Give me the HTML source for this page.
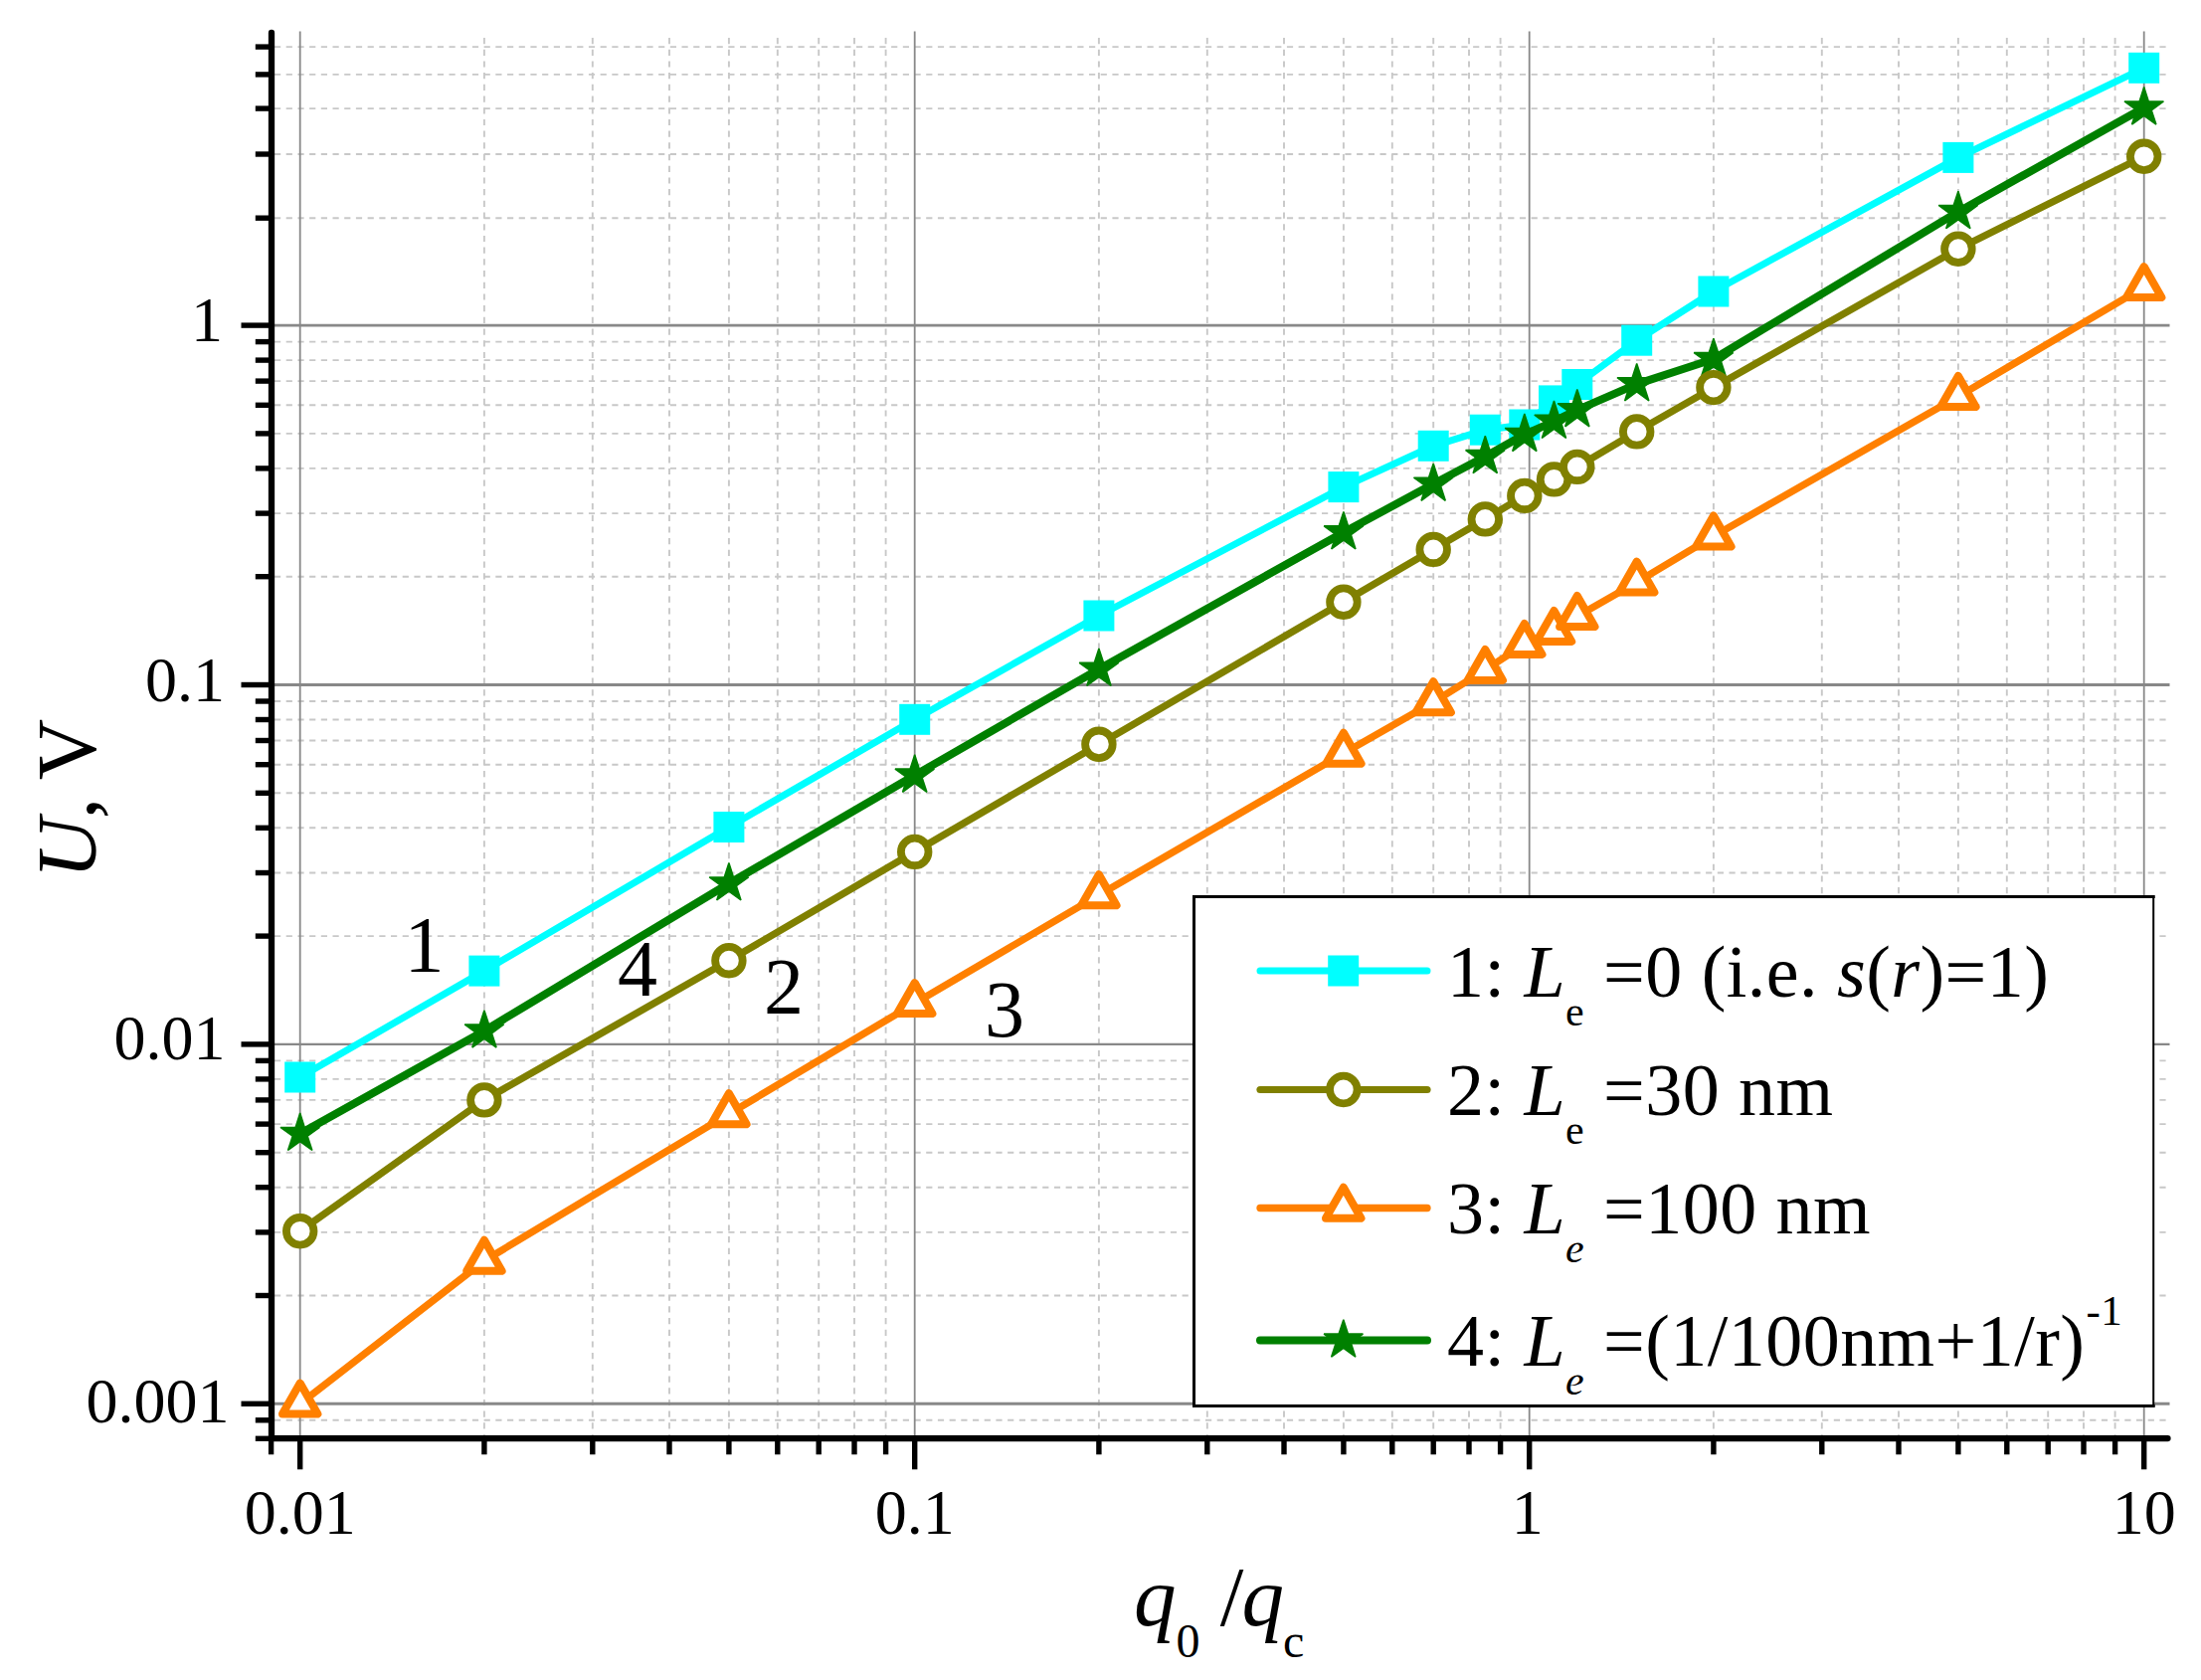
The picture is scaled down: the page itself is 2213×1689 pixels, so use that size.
<!DOCTYPE html>
<html><head><meta charset="utf-8"><title>U vs q0/qc</title>
<style>
html,body{margin:0;padding:0;background:#fff;}
svg{display:block;}
text{font-family:"Liberation Serif",serif;fill:#000;}
.i{font-style:italic;}
</style></head><body>
<svg width="2213" height="1689" viewBox="0 0 2213 1689">
<rect width="2213" height="1689" fill="#fff"/>

<g stroke="#c8c8c8" stroke-width="1.9" stroke-dasharray="6.2 5.5" fill="none">
<line x1="486.9" y1="38" x2="486.9" y2="1446.1"/>
<line x1="595.8" y1="38" x2="595.8" y2="1446.1"/>
<line x1="673.0" y1="38" x2="673.0" y2="1446.1"/>
<line x1="732.9" y1="38" x2="732.9" y2="1446.1"/>
<line x1="781.8" y1="38" x2="781.8" y2="1446.1"/>
<line x1="823.2" y1="38" x2="823.2" y2="1446.1"/>
<line x1="859.0" y1="38" x2="859.0" y2="1446.1"/>
<line x1="890.6" y1="38" x2="890.6" y2="1446.1"/>
<line x1="1104.9" y1="38" x2="1104.9" y2="1446.1"/>
<line x1="1213.8" y1="38" x2="1213.8" y2="1446.1"/>
<line x1="1291.0" y1="38" x2="1291.0" y2="1446.1"/>
<line x1="1350.9" y1="38" x2="1350.9" y2="1446.1"/>
<line x1="1399.8" y1="38" x2="1399.8" y2="1446.1"/>
<line x1="1441.2" y1="38" x2="1441.2" y2="1446.1"/>
<line x1="1477.0" y1="38" x2="1477.0" y2="1446.1"/>
<line x1="1508.6" y1="38" x2="1508.6" y2="1446.1"/>
<line x1="1722.9" y1="38" x2="1722.9" y2="1446.1"/>
<line x1="1831.8" y1="38" x2="1831.8" y2="1446.1"/>
<line x1="1909.0" y1="38" x2="1909.0" y2="1446.1"/>
<line x1="1968.9" y1="38" x2="1968.9" y2="1446.1"/>
<line x1="2017.8" y1="38" x2="2017.8" y2="1446.1"/>
<line x1="2059.2" y1="38" x2="2059.2" y2="1446.1"/>
<line x1="2095.0" y1="38" x2="2095.0" y2="1446.1"/>
<line x1="2126.6" y1="38" x2="2126.6" y2="1446.1"/>
<line x1="276.0" y1="1427.8" x2="2181.5" y2="1427.8"/>
<line x1="276.0" y1="1302.5" x2="2181.5" y2="1302.5"/>
<line x1="276.0" y1="1238.9" x2="2181.5" y2="1238.9"/>
<line x1="276.0" y1="1193.7" x2="2181.5" y2="1193.7"/>
<line x1="276.0" y1="1158.7" x2="2181.5" y2="1158.7"/>
<line x1="276.0" y1="1130.1" x2="2181.5" y2="1130.1"/>
<line x1="276.0" y1="1105.9" x2="2181.5" y2="1105.9"/>
<line x1="276.0" y1="1084.9" x2="2181.5" y2="1084.9"/>
<line x1="276.0" y1="1066.4" x2="2181.5" y2="1066.4"/>
<line x1="276.0" y1="941.1" x2="2181.5" y2="941.1"/>
<line x1="276.0" y1="877.5" x2="2181.5" y2="877.5"/>
<line x1="276.0" y1="832.3" x2="2181.5" y2="832.3"/>
<line x1="276.0" y1="797.3" x2="2181.5" y2="797.3"/>
<line x1="276.0" y1="768.7" x2="2181.5" y2="768.7"/>
<line x1="276.0" y1="744.5" x2="2181.5" y2="744.5"/>
<line x1="276.0" y1="723.5" x2="2181.5" y2="723.5"/>
<line x1="276.0" y1="705.0" x2="2181.5" y2="705.0"/>
<line x1="276.0" y1="579.7" x2="2181.5" y2="579.7"/>
<line x1="276.0" y1="516.1" x2="2181.5" y2="516.1"/>
<line x1="276.0" y1="470.9" x2="2181.5" y2="470.9"/>
<line x1="276.0" y1="435.9" x2="2181.5" y2="435.9"/>
<line x1="276.0" y1="407.3" x2="2181.5" y2="407.3"/>
<line x1="276.0" y1="383.1" x2="2181.5" y2="383.1"/>
<line x1="276.0" y1="362.1" x2="2181.5" y2="362.1"/>
<line x1="276.0" y1="343.6" x2="2181.5" y2="343.6"/>
<line x1="276.0" y1="219.2" x2="2181.5" y2="219.2"/>
<line x1="276.0" y1="155.0" x2="2181.5" y2="155.0"/>
<line x1="276.0" y1="109.1" x2="2181.5" y2="109.1"/>
<line x1="276.0" y1="74.9" x2="2181.5" y2="74.9"/>
<line x1="276.0" y1="47.1" x2="2181.5" y2="47.1"/>
</g>
<g stroke="#888888" fill="none">
<line x1="301.7" y1="31.5" x2="301.7" y2="1446.1" stroke-width="1.8"/>
<line x1="919.7" y1="31.5" x2="919.7" y2="1446.1" stroke-width="1.8"/>
<line x1="1537.7" y1="31.5" x2="1537.7" y2="1446.1" stroke-width="1.8"/>
<line x1="2155.7" y1="31.5" x2="2155.7" y2="1446.1" stroke-width="1.8"/>
<line x1="273.0" y1="1411.3" x2="2181.5" y2="1411.3" stroke-width="3"/>
<line x1="273.0" y1="1049.9" x2="2181.5" y2="1049.9" stroke-width="2.1"/>
<line x1="273.0" y1="688.5" x2="2181.5" y2="688.5" stroke-width="3"/>
<line x1="273.0" y1="327.1" x2="2181.5" y2="327.1" stroke-width="2.6"/>
</g>
<g>
<polyline points="301.7,1083.0 486.9,976.1 732.9,831.5 919.7,723.3 1104.9,619.0 1350.9,489.6 1441.2,448.3 1493.3,432.2 1532.8,427.0 1562.5,402.9 1585.8,386.5 1645.7,342.2 1722.9,293.0 1968.9,158.4 2155.7,68.3" fill="none" stroke="#00ffff" stroke-width="7.0" stroke-linejoin="round"/>
<rect x="286.2" y="1067.5" width="31" height="31" fill="#00ffff"/>
<rect x="471.4" y="960.6" width="31" height="31" fill="#00ffff"/>
<rect x="717.4" y="816.0" width="31" height="31" fill="#00ffff"/>
<rect x="904.2" y="707.8" width="31" height="31" fill="#00ffff"/>
<rect x="1089.4" y="603.5" width="31" height="31" fill="#00ffff"/>
<rect x="1335.4" y="474.1" width="31" height="31" fill="#00ffff"/>
<rect x="1425.7" y="432.8" width="31" height="31" fill="#00ffff"/>
<rect x="1477.8" y="416.7" width="31" height="31" fill="#00ffff"/>
<rect x="1517.3" y="411.5" width="31" height="31" fill="#00ffff"/>
<rect x="1547.0" y="387.4" width="31" height="31" fill="#00ffff"/>
<rect x="1570.3" y="371.0" width="31" height="31" fill="#00ffff"/>
<rect x="1630.2" y="326.7" width="31" height="31" fill="#00ffff"/>
<rect x="1707.4" y="277.5" width="31" height="31" fill="#00ffff"/>
<rect x="1953.4" y="142.9" width="31" height="31" fill="#00ffff"/>
<rect x="2140.2" y="52.8" width="31" height="31" fill="#00ffff"/>
</g>
<g>
<polyline points="301.7,1139.8 486.9,1036.4 732.9,888.3 919.7,779.5 1104.9,672.7 1350.9,535.2 1441.2,486.6 1493.3,459.0 1532.8,436.8 1562.5,423.6 1585.8,412.1 1645.7,386.1 1722.9,361.0 1968.9,212.9 2155.7,108.3" fill="none" stroke="#008000" stroke-width="8.0" stroke-linejoin="round"/>
<polygon points="301.7,1119.1 306.3,1133.4 321.4,1133.4 309.2,1142.2 313.9,1156.5 301.7,1147.7 289.5,1156.5 294.2,1142.2 282.0,1133.4 297.1,1133.4" fill="#008000" stroke="#008000" stroke-width="1.5" stroke-linejoin="bevel"/>
<polygon points="486.9,1015.7 491.6,1030.0 506.6,1030.0 494.5,1038.8 499.1,1053.1 486.9,1044.3 474.8,1053.1 479.4,1038.8 467.2,1030.0 482.3,1030.0" fill="#008000" stroke="#008000" stroke-width="1.5" stroke-linejoin="bevel"/>
<polygon points="732.9,867.6 737.5,881.9 752.6,881.9 740.4,890.7 745.0,905.0 732.9,896.2 720.7,905.0 725.3,890.7 713.2,881.9 728.2,881.9" fill="#008000" stroke="#008000" stroke-width="1.5" stroke-linejoin="bevel"/>
<polygon points="919.7,758.8 924.3,773.1 939.4,773.1 927.2,781.9 931.9,796.3 919.7,787.4 907.5,796.3 912.2,781.9 900.0,773.1 915.1,773.1" fill="#008000" stroke="#008000" stroke-width="1.5" stroke-linejoin="bevel"/>
<polygon points="1104.9,652.0 1109.6,666.3 1124.6,666.3 1112.5,675.1 1117.1,689.4 1104.9,680.6 1092.8,689.4 1097.4,675.1 1085.2,666.3 1100.3,666.3" fill="#008000" stroke="#008000" stroke-width="1.5" stroke-linejoin="bevel"/>
<polygon points="1350.9,514.5 1355.5,528.8 1370.6,528.8 1358.4,537.7 1363.0,552.0 1350.9,543.2 1338.7,552.0 1343.3,537.7 1331.2,528.8 1346.2,528.8" fill="#008000" stroke="#008000" stroke-width="1.5" stroke-linejoin="bevel"/>
<polygon points="1441.2,465.9 1445.8,480.2 1460.9,480.2 1448.7,489.0 1453.3,503.3 1441.2,494.5 1429.0,503.3 1433.7,489.0 1421.5,480.2 1436.5,480.2" fill="#008000" stroke="#008000" stroke-width="1.5" stroke-linejoin="bevel"/>
<polygon points="1493.3,438.3 1497.9,452.6 1513.0,452.6 1500.8,461.4 1505.4,475.7 1493.3,466.9 1481.1,475.7 1485.8,461.4 1473.6,452.6 1488.6,452.6" fill="#008000" stroke="#008000" stroke-width="1.5" stroke-linejoin="bevel"/>
<polygon points="1532.8,416.1 1537.5,430.4 1552.5,430.4 1540.4,439.3 1545.0,453.6 1532.8,444.7 1520.7,453.6 1525.3,439.3 1513.2,430.4 1528.2,430.4" fill="#008000" stroke="#008000" stroke-width="1.5" stroke-linejoin="bevel"/>
<polygon points="1562.5,402.9 1567.1,417.2 1582.2,417.2 1570.0,426.1 1574.6,440.4 1562.5,431.5 1550.3,440.4 1555.0,426.1 1542.8,417.2 1557.8,417.2" fill="#008000" stroke="#008000" stroke-width="1.5" stroke-linejoin="bevel"/>
<polygon points="1585.8,391.4 1590.5,405.7 1605.5,405.7 1593.4,414.5 1598.0,428.8 1585.8,420.0 1573.7,428.8 1578.3,414.5 1566.1,405.7 1581.2,405.7" fill="#008000" stroke="#008000" stroke-width="1.5" stroke-linejoin="bevel"/>
<polygon points="1645.7,365.4 1650.4,379.7 1665.4,379.7 1653.2,388.6 1657.9,402.9 1645.7,394.0 1633.6,402.9 1638.2,388.6 1626.0,379.7 1641.1,379.7" fill="#008000" stroke="#008000" stroke-width="1.5" stroke-linejoin="bevel"/>
<polygon points="1722.9,340.3 1727.6,354.6 1742.6,354.6 1730.5,363.4 1735.1,377.7 1722.9,368.9 1710.8,377.7 1715.4,363.4 1703.2,354.6 1718.3,354.6" fill="#008000" stroke="#008000" stroke-width="1.5" stroke-linejoin="bevel"/>
<polygon points="1968.9,192.2 1973.5,206.5 1988.6,206.5 1976.4,215.4 1981.0,229.7 1968.9,220.8 1956.7,229.7 1961.3,215.4 1949.2,206.5 1964.2,206.5" fill="#008000" stroke="#008000" stroke-width="1.5" stroke-linejoin="bevel"/>
<polygon points="2155.7,87.6 2160.3,101.9 2175.4,101.9 2163.2,110.8 2167.9,125.1 2155.7,116.3 2143.5,125.1 2148.2,110.8 2136.0,101.9 2151.1,101.9" fill="#008000" stroke="#008000" stroke-width="1.5" stroke-linejoin="bevel"/>
</g>
<g>
<polyline points="301.7,1237.8 486.9,1105.9 732.9,965.7 919.7,856.4 1104.9,748.3 1350.9,605.2 1441.2,552.4 1493.3,521.9 1532.8,498.4 1562.5,481.9 1585.8,469.4 1645.7,433.9 1722.9,389.6 1968.9,250.2 2155.7,157.3" fill="none" stroke="#808000" stroke-width="7.2" stroke-linejoin="round"/>
<circle cx="301.7" cy="1237.8" r="13.8" fill="#fff" stroke="#808000" stroke-width="7.8"/>
<circle cx="486.9" cy="1105.9" r="13.8" fill="#fff" stroke="#808000" stroke-width="7.8"/>
<circle cx="732.9" cy="965.7" r="13.8" fill="#fff" stroke="#808000" stroke-width="7.8"/>
<circle cx="919.7" cy="856.4" r="13.8" fill="#fff" stroke="#808000" stroke-width="7.8"/>
<circle cx="1104.9" cy="748.3" r="13.8" fill="#fff" stroke="#808000" stroke-width="7.8"/>
<circle cx="1350.9" cy="605.2" r="13.8" fill="#fff" stroke="#808000" stroke-width="7.8"/>
<circle cx="1441.2" cy="552.4" r="13.8" fill="#fff" stroke="#808000" stroke-width="7.8"/>
<circle cx="1493.3" cy="521.9" r="13.8" fill="#fff" stroke="#808000" stroke-width="7.8"/>
<circle cx="1532.8" cy="498.4" r="13.8" fill="#fff" stroke="#808000" stroke-width="7.8"/>
<circle cx="1562.5" cy="481.9" r="13.8" fill="#fff" stroke="#808000" stroke-width="7.8"/>
<circle cx="1585.8" cy="469.4" r="13.8" fill="#fff" stroke="#808000" stroke-width="7.8"/>
<circle cx="1645.7" cy="433.9" r="13.8" fill="#fff" stroke="#808000" stroke-width="7.8"/>
<circle cx="1722.9" cy="389.6" r="13.8" fill="#fff" stroke="#808000" stroke-width="7.8"/>
<circle cx="1968.9" cy="250.2" r="13.8" fill="#fff" stroke="#808000" stroke-width="7.8"/>
<circle cx="2155.7" cy="157.3" r="13.8" fill="#fff" stroke="#808000" stroke-width="7.8"/>
</g>
<g>
<polyline points="301.7,1411.3 486.9,1267.5 732.9,1119.9 919.7,1008.7 1104.9,899.9 1350.9,757.3 1441.2,705.9 1493.3,673.5 1532.8,647.6 1562.5,634.6 1585.8,619.7 1645.7,585.3 1722.9,539.1 1968.9,398.6 2155.7,288.7" fill="none" stroke="#ff8000" stroke-width="7.3" stroke-linejoin="round"/>
<path d="M301.7,1390.6 L319.4,1421.6 L284.0,1421.6 Z" fill="#fff" stroke="#ff8000" stroke-width="8" stroke-linejoin="round"/>
<path d="M486.9,1246.8 L504.6,1277.8 L469.2,1277.8 Z" fill="#fff" stroke="#ff8000" stroke-width="8" stroke-linejoin="round"/>
<path d="M732.9,1099.3 L750.6,1130.3 L715.2,1130.3 Z" fill="#fff" stroke="#ff8000" stroke-width="8" stroke-linejoin="round"/>
<path d="M919.7,988.1 L937.4,1019.1 L902.0,1019.1 Z" fill="#fff" stroke="#ff8000" stroke-width="8" stroke-linejoin="round"/>
<path d="M1104.9,879.3 L1122.6,910.3 L1087.2,910.3 Z" fill="#fff" stroke="#ff8000" stroke-width="8" stroke-linejoin="round"/>
<path d="M1350.9,736.7 L1368.6,767.7 L1333.2,767.7 Z" fill="#fff" stroke="#ff8000" stroke-width="8" stroke-linejoin="round"/>
<path d="M1441.2,685.2 L1458.9,716.2 L1423.5,716.2 Z" fill="#fff" stroke="#ff8000" stroke-width="8" stroke-linejoin="round"/>
<path d="M1493.3,652.9 L1511.0,683.9 L1475.6,683.9 Z" fill="#fff" stroke="#ff8000" stroke-width="8" stroke-linejoin="round"/>
<path d="M1532.8,626.9 L1550.5,657.9 L1515.1,657.9 Z" fill="#fff" stroke="#ff8000" stroke-width="8" stroke-linejoin="round"/>
<path d="M1562.5,613.9 L1580.2,644.9 L1544.8,644.9 Z" fill="#fff" stroke="#ff8000" stroke-width="8" stroke-linejoin="round"/>
<path d="M1585.8,599.0 L1603.5,630.0 L1568.1,630.0 Z" fill="#fff" stroke="#ff8000" stroke-width="8" stroke-linejoin="round"/>
<path d="M1645.7,564.6 L1663.4,595.6 L1628.0,595.6 Z" fill="#fff" stroke="#ff8000" stroke-width="8" stroke-linejoin="round"/>
<path d="M1722.9,518.5 L1740.6,549.5 L1705.2,549.5 Z" fill="#fff" stroke="#ff8000" stroke-width="8" stroke-linejoin="round"/>
<path d="M1968.9,378.0 L1986.6,409.0 L1951.2,409.0 Z" fill="#fff" stroke="#ff8000" stroke-width="8" stroke-linejoin="round"/>
<path d="M2155.7,268.1 L2173.4,299.1 L2138.0,299.1 Z" fill="#fff" stroke="#ff8000" stroke-width="8" stroke-linejoin="round"/>
</g>
<g stroke="#000" stroke-width="5.4" fill="none">
<line x1="256.8" y1="1446.3" x2="273.0" y2="1446.3"/>
<line x1="256.8" y1="1427.8" x2="273.0" y2="1427.8"/>
<line x1="242.5" y1="1411.3" x2="273.0" y2="1411.3"/>
<line x1="256.8" y1="1302.5" x2="273.0" y2="1302.5"/>
<line x1="256.8" y1="1238.9" x2="273.0" y2="1238.9"/>
<line x1="256.8" y1="1193.7" x2="273.0" y2="1193.7"/>
<line x1="256.8" y1="1158.7" x2="273.0" y2="1158.7"/>
<line x1="256.8" y1="1130.1" x2="273.0" y2="1130.1"/>
<line x1="256.8" y1="1105.9" x2="273.0" y2="1105.9"/>
<line x1="256.8" y1="1084.9" x2="273.0" y2="1084.9"/>
<line x1="256.8" y1="1066.4" x2="273.0" y2="1066.4"/>
<line x1="242.5" y1="1049.9" x2="273.0" y2="1049.9"/>
<line x1="256.8" y1="941.1" x2="273.0" y2="941.1"/>
<line x1="256.8" y1="877.5" x2="273.0" y2="877.5"/>
<line x1="256.8" y1="832.3" x2="273.0" y2="832.3"/>
<line x1="256.8" y1="797.3" x2="273.0" y2="797.3"/>
<line x1="256.8" y1="768.7" x2="273.0" y2="768.7"/>
<line x1="256.8" y1="744.5" x2="273.0" y2="744.5"/>
<line x1="256.8" y1="723.5" x2="273.0" y2="723.5"/>
<line x1="256.8" y1="705.0" x2="273.0" y2="705.0"/>
<line x1="242.5" y1="688.5" x2="273.0" y2="688.5"/>
<line x1="256.8" y1="579.7" x2="273.0" y2="579.7"/>
<line x1="256.8" y1="516.1" x2="273.0" y2="516.1"/>
<line x1="256.8" y1="470.9" x2="273.0" y2="470.9"/>
<line x1="256.8" y1="435.9" x2="273.0" y2="435.9"/>
<line x1="256.8" y1="407.3" x2="273.0" y2="407.3"/>
<line x1="256.8" y1="383.1" x2="273.0" y2="383.1"/>
<line x1="256.8" y1="362.1" x2="273.0" y2="362.1"/>
<line x1="256.8" y1="343.6" x2="273.0" y2="343.6"/>
<line x1="242.5" y1="327.1" x2="273.0" y2="327.1"/>
<line x1="256.8" y1="219.2" x2="273.0" y2="219.2"/>
<line x1="256.8" y1="155.0" x2="273.0" y2="155.0"/>
<line x1="256.8" y1="109.1" x2="273.0" y2="109.1"/>
<line x1="256.8" y1="74.9" x2="273.0" y2="74.9"/>
<line x1="256.8" y1="47.1" x2="273.0" y2="47.1"/>
<line x1="272.6" y1="1446.1" x2="272.6" y2="1462.3"/>
<line x1="301.7" y1="1446.1" x2="301.7" y2="1477.3"/>
<line x1="486.9" y1="1446.1" x2="486.9" y2="1462.3"/>
<line x1="595.8" y1="1446.1" x2="595.8" y2="1462.3"/>
<line x1="673.0" y1="1446.1" x2="673.0" y2="1462.3"/>
<line x1="732.9" y1="1446.1" x2="732.9" y2="1462.3"/>
<line x1="781.8" y1="1446.1" x2="781.8" y2="1462.3"/>
<line x1="823.2" y1="1446.1" x2="823.2" y2="1462.3"/>
<line x1="859.0" y1="1446.1" x2="859.0" y2="1462.3"/>
<line x1="890.6" y1="1446.1" x2="890.6" y2="1462.3"/>
<line x1="919.7" y1="1446.1" x2="919.7" y2="1477.3"/>
<line x1="1104.9" y1="1446.1" x2="1104.9" y2="1462.3"/>
<line x1="1213.8" y1="1446.1" x2="1213.8" y2="1462.3"/>
<line x1="1291.0" y1="1446.1" x2="1291.0" y2="1462.3"/>
<line x1="1350.9" y1="1446.1" x2="1350.9" y2="1462.3"/>
<line x1="1399.8" y1="1446.1" x2="1399.8" y2="1462.3"/>
<line x1="1441.2" y1="1446.1" x2="1441.2" y2="1462.3"/>
<line x1="1477.0" y1="1446.1" x2="1477.0" y2="1462.3"/>
<line x1="1508.6" y1="1446.1" x2="1508.6" y2="1462.3"/>
<line x1="1537.7" y1="1446.1" x2="1537.7" y2="1477.3"/>
<line x1="1722.9" y1="1446.1" x2="1722.9" y2="1462.3"/>
<line x1="1831.8" y1="1446.1" x2="1831.8" y2="1462.3"/>
<line x1="1909.0" y1="1446.1" x2="1909.0" y2="1462.3"/>
<line x1="1968.9" y1="1446.1" x2="1968.9" y2="1462.3"/>
<line x1="2017.8" y1="1446.1" x2="2017.8" y2="1462.3"/>
<line x1="2059.2" y1="1446.1" x2="2059.2" y2="1462.3"/>
<line x1="2095.0" y1="1446.1" x2="2095.0" y2="1462.3"/>
<line x1="2126.6" y1="1446.1" x2="2126.6" y2="1462.3"/>
<line x1="2155.7" y1="1446.1" x2="2155.7" y2="1477.3"/>
<line x1="273.0" y1="33.0" x2="273.0" y2="1446.1" stroke-width="6.3" stroke-linecap="round"/>
<line x1="273.0" y1="1446.1" x2="2179.5" y2="1446.1" stroke-width="6.3" stroke-linecap="round"/>
</g>
<text x="224" y="343.1" font-size="64" text-anchor="end">1</text>
<text x="226" y="705.2" font-size="64" text-anchor="end">0.1</text>
<text x="226.5" y="1065.4" font-size="64" text-anchor="end">0.01</text>
<text x="230.5" y="1430.1" font-size="64" text-anchor="end">0.001</text>
<text x="301.7" y="1541.6" font-size="64" text-anchor="middle">0.01</text>
<text x="919.7" y="1541.6" font-size="64" text-anchor="middle">0.1</text>
<text x="1535.7" y="1541.6" font-size="64" text-anchor="middle">1</text>
<text x="2155.7" y="1541.6" font-size="64" text-anchor="middle">10</text>
<text transform="translate(96,883.6) rotate(-90)" font-size="85"><tspan class="i">U</tspan><tspan dx="-1">,</tspan><tspan dx="-2"> V</tspan></text>
<text x="1140" y="1634" font-size="85"><tspan class="i">q</tspan><tspan font-size="48" dy="31.5">0</tspan><tspan dy="-31.5" dx="-1"> /</tspan><tspan class="i" dx="-2">q</tspan><tspan font-size="48" dy="31.5" dx="-1">c</tspan></text>
<text x="406.5" y="977" font-size="80">1</text>
<text x="621" y="1001" font-size="80">4</text>
<text x="768" y="1018.5" font-size="80">2</text>
<text x="990" y="1042" font-size="80">3</text>
<rect x="1200.5" y="901.4" width="964.7" height="512" fill="#fff"/>
<g stroke="#000" stroke-linecap="square" fill="none"><line x1="1200.5" y1="901.4" x2="1200.5" y2="1413.4" stroke-width="3"/><line x1="1200.5" y1="901.4" x2="2165.2" y2="901.4" stroke-width="3"/><line x1="2165.2" y1="901.4" x2="2165.2" y2="1413.4" stroke-width="2"/><line x1="1200.5" y1="1413.4" x2="2165.2" y2="1413.4" stroke-width="3"/></g>
<line x1="1267" y1="976" x2="1435" y2="976" stroke="#00ffff" stroke-width="7.0" stroke-linecap="round"/>
<rect x="1335.2" y="960.5" width="31" height="31" fill="#00ffff"/>
<line x1="1267" y1="1095.5" x2="1435" y2="1095.5" stroke="#808000" stroke-width="7.2" stroke-linecap="round"/>
<circle cx="1350.8" cy="1095.5" r="13.8" fill="#fff" stroke="#808000" stroke-width="7.8"/>
<line x1="1267" y1="1214.5" x2="1435" y2="1214.5" stroke="#ff8000" stroke-width="7.3" stroke-linecap="round"/>
<path d="M1350.8,1193.8 L1368.5,1224.8 L1333.0,1224.8 Z" fill="#fff" stroke="#ff8000" stroke-width="8" stroke-linejoin="round"/>
<line x1="1267" y1="1347.5" x2="1435" y2="1347.5" stroke="#008000" stroke-width="8.0" stroke-linecap="round"/>
<polygon points="1350.8,1326.8 1355.4,1341.1 1370.4,1341.1 1358.3,1349.9 1362.9,1364.2 1350.8,1355.4 1338.6,1364.2 1343.2,1349.9 1331.1,1341.1 1346.1,1341.1" fill="#008000" stroke="#008000" stroke-width="1.5" stroke-linejoin="bevel"/>
<text x="1455" y="1001.5" font-size="74" letter-spacing="0.45">1: <tspan class="i">L</tspan><tspan font-size="42" dy="29">e</tspan><tspan dy="-29"> =0 (i.e. <tspan class="i">s</tspan>(<tspan class="i">r</tspan>)=1)</tspan></text>
<text x="1455" y="1121.0" font-size="74" letter-spacing="0.45">2: <tspan class="i">L</tspan><tspan font-size="42" dy="29">e</tspan><tspan dy="-29"> =30 nm</tspan></text>
<text x="1455" y="1240.0" font-size="74" letter-spacing="0.45">3: <tspan class="i">L</tspan><tspan font-size="42" dy="29" class="i">e</tspan><tspan dy="-29"> =100 nm</tspan></text>
<text x="1455" y="1373.0" font-size="74" letter-spacing="0.45">4: <tspan class="i">L</tspan><tspan font-size="42" dy="29" class="i">e</tspan><tspan dy="-29"> =(1/100nm+1/r)<tspan font-size="43" dy="-41" dx="1">-1</tspan></tspan></text>
</svg></body></html>
